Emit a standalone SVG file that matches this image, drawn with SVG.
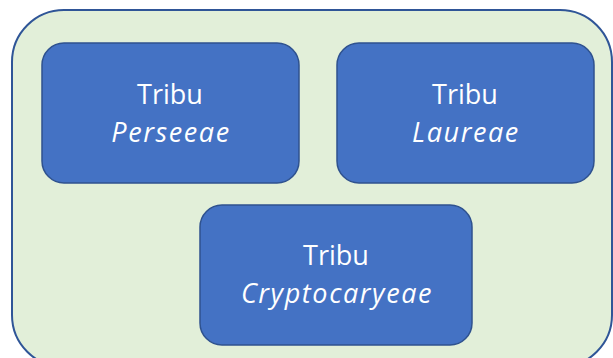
<svg xmlns="http://www.w3.org/2000/svg" width="613" height="358" viewBox="0 0 613 358">
<style>
.box{fill:#4472C4;stroke:#2F528F;stroke-width:1.5}
.t{font-family:"Open Sans","Liberation Sans",sans-serif;font-size:27px;fill:#FFFFFF;text-anchor:middle}
.i{font-style:italic;letter-spacing:1.6px}
</style>
<rect width="613" height="358" fill="#FFFFFF"/>
<g id="container">
<rect x="12" y="10" width="600" height="357" rx="52" ry="52" fill="#E2EFD9" stroke="#2F5597" stroke-width="2"/>
</g>
<g id="node-perseeae">
<rect class="box" x="42" y="43" width="257" height="140" rx="22" ry="22"/>
<text class="t" x="170" y="104">Tribu</text>
<text class="t i" x="171" y="142">Perseeae</text>
</g>
<g id="node-laureae">
<rect class="box" x="337" y="43" width="257" height="140" rx="22" ry="22"/>
<text class="t" x="465" y="104">Tribu</text>
<text class="t i" x="466" y="142">Laureae</text>
</g>
<g id="node-cryptocaryeae">
<rect class="box" x="200" y="205" width="272" height="140" rx="22" ry="22"/>
<text class="t" x="336" y="265">Tribu</text>
<text class="t i" x="337" y="303">Cryptocaryeae</text>
</g>
<g id="connectors"/>
</svg>
